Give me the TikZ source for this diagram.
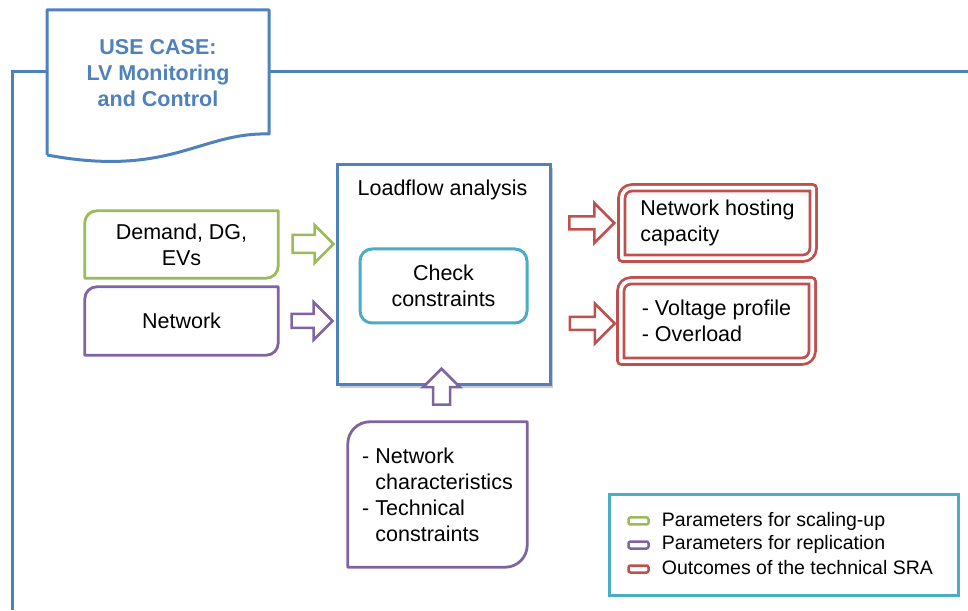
\documentclass[tikz,border=0pt]{standalone}
\usepackage{fontspec}
\setmainfont{Liberation Sans}
\usetikzlibrary{shapes.arrows,shadows,positioning}
\definecolor{ucblue}{HTML}{4F81BD}
\definecolor{scalegreen}{HTML}{9BBB59}
\definecolor{replpurple}{HTML}{8064A2}
\definecolor{srared}{HTML}{C0504D}
\definecolor{checkaqua}{HTML}{4BACC6}
\newcommand{\diagframe}[3]{\draw[#1] (#2.south west) -- ([yshift=-#3]#2.north west) arc[start angle=180,end angle=90,radius=#3] -- (#2.north east) -- ([yshift=#3]#2.south east) arc[start angle=0,end angle=-90,radius=#3] -- cycle;}

\begin{document}
\begin{tikzpicture}[x=1pt, y=1pt,
                    every node/.style={font=\fontsize{21.5}{26}\selectfont},
                    frameline/.style={draw=ucblue, line width=3pt},
                    param/.style={minimum width=193pt, minimum height=67pt,
                                  align=center, inner sep=0pt},
                    outcome/.style={minimum width=191pt, align=left, inner sep=0pt},
                    boxline/.style={line width=2.8pt, line join=round},
                    blockarrow/.style={single arrow, draw, fill=white, line width=2.5pt,
                                       text height=0pt, text depth=0pt, inner xsep=0pt},
                    legicon/.style={draw, rounded corners=2pt, line width=2.5pt,
                                    minimum width=20pt, minimum height=7pt, inner sep=0pt},
                    legtext/.style={font=\fontsize{19.5}{24}\selectfont, inner sep=0pt,
                                    text height=14pt, text depth=4pt},]
    \useasboundingbox (0,0) rectangle (968,610);
    \draw[frameline] (12,0) -- (12,538) -- (968,538);
    \draw[frameline, fill=white, line join=round] (47,455) -- (47,600) -- (269,600) -- (269,476)
        .. controls (200,478) and (170,432) .. (47,455);
    \node[font=\bfseries\fontsize{21.5}{26}\selectfont, text=ucblue, align=center] (usecase) at (158,537)
        {USE CASE:\\LV Monitoring\\and Control};

    \node[param] (demand) at (181.5,365.5) {Demand, DG,\\EVs};
    \diagframe{scalegreen, boxline}{demand}{12pt}
    \node[param, minimum height=68pt] (network) at (181.5,289) {Network};
    \diagframe{replpurple, boxline}{network}{12pt}

    \node[draw=ucblue, line width=3pt, fill=white, minimum width=213pt, minimum height=220pt,
          drop shadow={shadow xshift=3pt, shadow yshift=-3pt, opacity=0.4}] (loadflow) at (443.5,335) {};
    \node (lftitle) at (442.5,420) {Loadflow analysis};
    \node[draw=checkaqua, line width=3pt, rounded corners=12pt, minimum width=167pt,
          minimum height=74pt, align=center] (check) at (443.5,324) {Check\\constraints};

    \node[inner sep=0pt, minimum width=179pt, minimum height=145pt, align=left] (netchar) at (437.5,115.5)
        {- Network\\\phantom{- }characteristics\\- Technical\\\phantom{- }constraints};
    \diagframe{replpurple, boxline}{netchar}{22pt}

    \node[outcome, minimum height=70pt] (hosting) at (717.5,387) {Network hosting\\capacity};
    \diagframe{srared, boxline, double, double distance=3.6pt}{hosting}{10pt}
    \node[outcome, minimum height=80pt] (overload) at (716.5,289) {- Voltage profile\\- Overload};
    \diagframe{srared, boxline, double, double distance=3.6pt}{overload}{10pt}

    \node[blockarrow, draw=scalegreen, minimum height=41pt, inner ysep=7.75pt,
          single arrow head extend=10pt] (inscale) at (308.5,366) {};
    \node[blockarrow, draw=replpurple, minimum height=41pt, inner ysep=5.75pt,
          single arrow head extend=12pt] (inrepl) at (308.5,289) {};
    \node[blockarrow, draw=replpurple, minimum height=36pt, inner ysep=7.25pt,
          single arrow head extend=10pt, rotate=90] (inchar) at (441.5,219) {};
    \node[blockarrow, draw=srared, minimum height=45pt, inner ysep=5.25pt,
          single arrow head extend=13.5pt] (outhost) at (588.5,387) {};
    \node[blockarrow, draw=srared, minimum height=45pt, inner ysep=5.25pt,
          single arrow head extend=13.5pt] (outload) at (589,286.5) {};

    \node[draw=checkaqua, line width=3pt, minimum width=349pt, minimum height=101pt] (legend) at (784,65) {};
    \node[legicon, draw=scalegreen] (legscale) at (638.5,89) {};
    \node[legtext, right=12pt of legscale] (legscaletext) {Parameters for scaling-up};
    \node[legicon, draw=replpurple] (legrepl) at (638.5,65) {};
    \node[legtext, right=12pt of legrepl] (legrepltext) {Parameters for replication};
    \node[legicon, draw=srared] (legsra) at (638.5,41) {};
    \node[legtext, right=12pt of legsra] (legsratext) {Outcomes of the technical SRA};
\end{tikzpicture}
\end{document}
